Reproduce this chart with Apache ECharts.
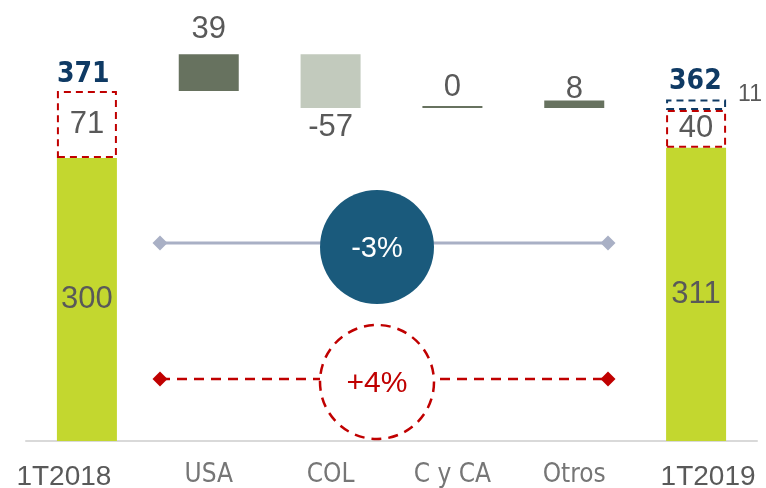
<!DOCTYPE html>
<html>
<head>
<meta charset="utf-8">
<script src="https://cdn.jsdelivr.net/npm/echarts@6/dist/echarts.min.js"></script>
<style>
  html, body { margin: 0; padding: 0; background: #ffffff; }
  #chart { width: 766px; height: 488px; }
</style>
</head>
<body>
<div id="chart"></div>
<script>
// Periods and drivers of the bridge
const categories = ['1T2018', 'USA', 'COL', 'C y CA', 'Otros', '1T2019'];
// Underlying (green) part of each period bar
const coreValues = [300, 311];
// Dashed red block stacked on each period bar
const effectValues = [71, 40];
// Dashed navy block on the closing bar
const otherValues = [11];
// Period totals
const totals = [371, 362];
// Contribution by region
const deltas = [39, -57, 0, 8];
// Growth labels
const growthPlain = '-3%';
const growthAdjusted = '+4%';

const GREY_TXT = '#595959';
const NAVY = '#0f3a64';
const RED = '#c00000';
const DARK = '#67725f';
const LIGHT = '#c2cabd';
const GREEN = '#c3d72f';
const NARROW = '"Liberation Sans Narrow", "DejaVu Sans Condensed", Roboto, sans-serif';

// Floating offsets for the waterfall, built from the deltas
const offsetData = ['-'];
const deltaData = ['-'];
let running = totals[0];
deltas.forEach(function (d) {
  offsetData.push(d >= 0 ? running : running + d);
  deltaData.push(Math.abs(d));
  running += d;
});
offsetData.push('-');
deltaData.push('-');

const deltaLabelTweaks = [
  { position: 'top', distance: 9 },
  { position: 'bottom', distance: 4 },
  { position: 'top', distance: 3 },
  { position: 'top', distance: -4 }
];
const deltaColors = [DARK, LIGHT, DARK, DARK];

const valueFont = { fontFamily: 'Liberation Sans', fontSize: 31, color: GREY_TXT, lineHeight: 31 };

const deltaSeriesData = deltaData.map(function (v, i) {
  if (v === '-') return '-';
  const k = i - 1;
  return {
    value: v,
    itemStyle: { color: deltaColors[k] },
    label: Object.assign({
      show: true,
      formatter: String(deltas[k])
    }, valueFont, deltaLabelTweaks[k])
  };
});

function ends(arr) {
  const out = categories.map(function () { return '-'; });
  out[0] = arr[0];
  out[categories.length - 1] = arr[1];
  return out;
}

const totalLabel = {
  show: true, align: 'left', verticalAlign: 'bottom',
  fontFamily: NARROW, fontWeight: 'bold', fontSize: 28, color: NAVY
};

const chart = echarts.init(document.getElementById('chart'), null, { renderer: 'canvas' });

const option = {
  animation: false,
  backgroundColor: '#ffffff',
  grid: { left: 26, right: 9, top: 16.6, bottom: 47, containLabel: false, outerBoundsMode: 'none' },
  xAxis: {
    type: 'category',
    data: categories,
    axisLine: { show: true, lineStyle: { color: '#d9d9d9', width: 2 } },
    axisTick: { show: false },
    axisLabel: {
      interval: 0,
      margin: 20,
      formatter: function (v, i) {
        if (i === 0) return '{bigL|' + v + '}';
        if (i === categories.length - 1) return '{bigR|' + v + '}';
        return '{small|' + v + '}';
      },
      rich: {
        bigL: { fontFamily: 'Liberation Sans', fontSize: 28, color: GREY_TXT, padding: [5, 46, 0, 0], lineHeight: 28 },
        bigR: { fontFamily: 'Liberation Sans', fontSize: 28, color: GREY_TXT, padding: [5, 0, 0, 24], lineHeight: 28 },
        small: { fontFamily: NARROW, fontSize: 26, color: '#767676', lineHeight: 28 }
      }
    }
  },
  yAxis: {
    type: 'value',
    min: 0,
    max: 450,
    show: false,
    splitLine: { show: false }
  },
  series: [
    {
      name: 'offset',
      type: 'bar',
      stack: 'w',
      barWidth: 60,
      silent: true,
      itemStyle: { color: 'transparent' },
      data: offsetData
    },
    {
      name: 'core',
      type: 'bar',
      stack: 'w',
      itemStyle: { color: GREEN },
      label: Object.assign({ show: true, position: 'inside' }, valueFont),
      data: ends(coreValues)
    },
    {
      name: 'deltas',
      type: 'bar',
      stack: 'w',
      barMinHeight: 2,
      data: deltaSeriesData
    },
    {
      name: 'effect',
      type: 'bar',
      stack: 'w',
      itemStyle: { color: 'transparent', borderColor: RED, borderWidth: 2, borderType: [7, 5] },
      label: Object.assign({ show: true, position: 'inside' }, valueFont),
      data: ends(effectValues)
    },
    {
      name: 'other',
      type: 'bar',
      stack: 'w',
      itemStyle: { color: 'transparent', borderColor: NAVY, borderWidth: 2, borderType: [7, 5] },
      label: {
        show: true,
        position: 'right',
        distance: 12,
        offset: [0, -10],
        fontFamily: 'Liberation Sans',
        fontSize: 23,
        color: GREY_TXT
      },
      data: ['-', '-', '-', '-', '-', otherValues[0]]
    },
    {
      name: 'total',
      type: 'bar',
      stack: 'w',
      itemStyle: { color: 'transparent' },
      data: [
        { value: 0, label: Object.assign({ position: [0, -2], formatter: String(totals[0]) }, totalLabel) },
        '-', '-', '-', '-',
        { value: 0, label: Object.assign({ position: [3, -4], formatter: String(totals[1]) }, totalLabel) }
      ]
    }
  ],
  graphic: [
    // reported growth line
    { type: 'line', shape: { x1: 160, y1: 243, x2: 608, y2: 243 }, style: { stroke: '#a9b0c5', lineWidth: 3 }, z: 10 },
    { type: 'polygon', shape: { points: [[160, 235.5], [167.5, 243], [160, 250.5], [152.5, 243]] }, style: { fill: '#a9b0c5' }, z: 11 },
    { type: 'polygon', shape: { points: [[608, 235.5], [615.5, 243], [608, 250.5], [600.5, 243]] }, style: { fill: '#a9b0c5' }, z: 11 },
    { type: 'circle', shape: { cx: 377, cy: 247, r: 57 }, style: { fill: '#1a5a7c' }, z: 12 },
    { type: 'text', x: 377, y: 249, style: { text: growthPlain, fill: '#ffffff', font: '29px "Liberation Sans"', align: 'center', verticalAlign: 'middle' }, z: 13 },
    // adjusted growth line
    { type: 'line', shape: { x1: 160, y1: 379, x2: 320, y2: 379 }, style: { stroke: RED, lineWidth: 2.5, lineDash: [10, 7] }, z: 10 },
    { type: 'line', shape: { x1: 440, y1: 379, x2: 608, y2: 379 }, style: { stroke: RED, lineWidth: 2.5, lineDash: [10, 7] }, z: 10 },
    { type: 'polygon', shape: { points: [[160, 371.5], [167.5, 379], [160, 386.5], [152.5, 379]] }, style: { fill: RED }, z: 11 },
    { type: 'polygon', shape: { points: [[608, 371.5], [615.5, 379], [608, 386.5], [600.5, 379]] }, style: { fill: RED }, z: 11 },
    { type: 'circle', shape: { cx: 377, cy: 382, r: 57 }, style: { fill: 'transparent', stroke: RED, lineWidth: 2.5, lineDash: [10, 7] }, z: 12 },
    { type: 'text', x: 377, y: 384, style: { text: growthAdjusted, fill: RED, font: '30px "Liberation Sans"', align: 'center', verticalAlign: 'middle' }, z: 13 }
  ]
};

chart.setOption(option);
</script>
</body>
</html>
